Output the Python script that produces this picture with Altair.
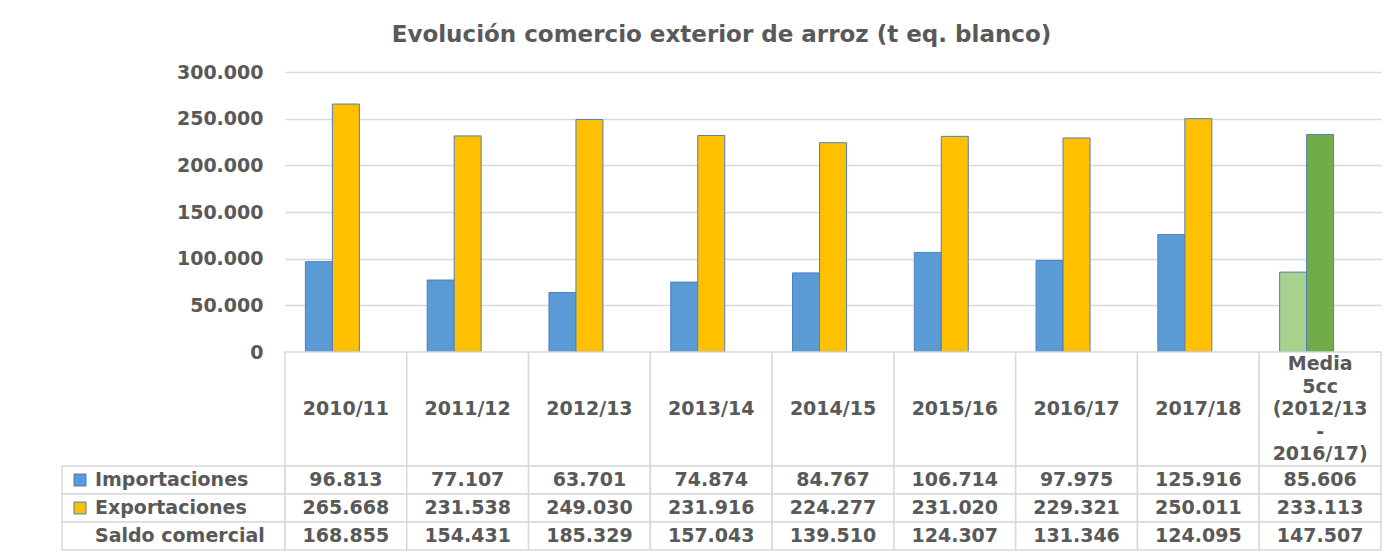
import altair as alt
import pandas as pd

# ---- data ----
categorias = ["2010/11", "2011/12", "2012/13", "2013/14", "2014/15",
              "2015/16", "2016/17", "2017/18", "Media\n5cc\n(2012/13\n-\n2016/17)"]
series = ["Importaciones", "Exportaciones", "Saldo comercial"]
importaciones = [96813, 77107, 63701, 74874, 84767, 106714, 97975, 125916, 85606]
exportaciones = [265668, 231538, 249030, 231916, 224277, 231020, 229321, 250011, 233113]
saldo = [168855, 154431, 185329, 157043, 139510, 124307, 131346, 124095, 147507]
ticks_y = [0, 50000, 100000, 150000, 200000, 250000, 300000]
titulo = "Evolución comercio exterior de arroz (t eq. blanco)"

media_cat = categorias[-1]
rows = []
for serie, vals in zip(series, [importaciones, exportaciones, saldo]):
    for c, v in zip(categorias, vals):
        key = serie + (" (media)" if c == media_cat else "")
        rows.append({"cat": c, "serie": serie, "value": v, "key": key})
df = pd.DataFrame(rows)
df_cat = pd.DataFrame({"cat": categorias})
df_lbl = pd.DataFrame({"serie": series})

# header text split in lines (one row per line, centred on the cell)
hdr_rows = []
for c in categorias:
    lines = c.split("\n")
    n = len(lines)
    for i, ln in enumerate(lines):
        hdr_rows.append({"cat": c, "line": ln, "pos": (n - 1) / 2 - i})
df_hdr = pd.DataFrame(hdr_rows)

color_domain = ["Importaciones", "Exportaciones", "Importaciones (media)",
                "Exportaciones (media)", "Saldo comercial", "Saldo comercial (media)"]
color_range = ["#5B9BD5", "#FFC000", "#A9D18E", "#70AD47", "#FFFFFF", "#FFFFFF"]

FONT = "DejaVu Sans"
GRAY = "#595959"
GRID = "#D9D9D9"
BORDER = "#4F7FBF"
FS = 19
HDR_H = 114
LINE_H = 22.5
fmt = "replace(format(datum.value, ','), regexp(',', 'g'), '.')"

color_enc = alt.Color("key:N", scale=alt.Scale(domain=color_domain, range=color_range), legend=None)

# ---- bars ----
bars = alt.Chart(df).transform_filter("datum.serie != 'Saldo comercial'").mark_bar(
    stroke=BORDER, strokeWidth=1
).encode(
    x=alt.X("cat:N", sort=categorias,
            scale=alt.Scale(domain=categorias, paddingInner=0.335, paddingOuter=0.1675), axis=None),
    xOffset=alt.XOffset("serie:N", sort=series,
                        scale=alt.Scale(domain=series, paddingInner=0, paddingOuter=0)),
    y=alt.Y("value:Q", scale=alt.Scale(domain=[0, 300000], nice=False),
            axis=alt.Axis(values=ticks_y, labelExpr=fmt, grid=True, gridColor=GRID, gridWidth=1.5,
                          domain=False, ticks=False, labelPadding=22, labelFont=FONT,
                          labelFontSize=FS, labelFontWeight="bold", labelColor=GRAY, title=None)),
    color=color_enc,
).properties(width=1096, height=280)

# ---- table ----
x_tab = alt.X("cat:N", sort=categorias,
              scale=alt.Scale(domain=categorias, paddingInner=0, paddingOuter=0), axis=None)
y_rows = alt.Y("serie:N", sort=series,
               scale=alt.Scale(domain=series, paddingInner=0, paddingOuter=0), axis=None)

half = HDR_H / 2 / LINE_H
hdr_cells = alt.Chart(df_cat).mark_rect(fill="white", stroke=GRID, strokeWidth=1.5).encode(x=x_tab)
hdr_text = alt.Chart(df_hdr).mark_text(
    font=FONT, fontSize=FS, fontWeight="bold", color=GRAY, baseline="middle"
).encode(x=x_tab,
         y=alt.Y("pos:Q", scale=alt.Scale(domain=[-half, half], nice=False, zero=False), axis=None),
         text="line:N")
header = alt.layer(hdr_cells, hdr_text).properties(width=1096, height=HDR_H)

val_cells = alt.Chart(df).mark_rect(fill="white", stroke=GRID, strokeWidth=1.5).encode(x=x_tab, y=y_rows)
val_text = alt.Chart(df).transform_calculate(label=fmt).mark_text(
    font=FONT, fontSize=FS, fontWeight="bold", color=GRAY
).encode(x=x_tab, y=y_rows, text="label:N")
values = alt.layer(val_cells, val_text).properties(width=1096, height=84)

x_lbl_scale = alt.Scale(paddingInner=0, paddingOuter=0)
lbl_base = alt.Chart(df_lbl).transform_calculate(col="'etiqueta'", key="datum.serie")
lbl_cells = lbl_base.mark_rect(fill="white", stroke=GRID, strokeWidth=1.5).encode(
    x=alt.X("col:N", scale=x_lbl_scale, axis=None), y=y_rows)
lbl_sw = lbl_base.transform_filter("datum.serie != 'Saldo comercial'").mark_square(
    size=144, xOffset=18, opacity=1, stroke=BORDER, strokeWidth=1
).encode(x=alt.X("col:N", bandPosition=0, scale=x_lbl_scale, axis=None), y=y_rows, color=color_enc)
lbl_text = lbl_base.mark_text(
    align="left", dx=33, font=FONT, fontSize=FS, fontWeight="bold", color=GRAY
).encode(x=alt.X("col:N", bandPosition=0, scale=x_lbl_scale, axis=None), y=y_rows, text="serie:N")
labels = alt.layer(lbl_cells, lbl_sw, lbl_text).properties(width=223, height=84)

empty_top = alt.Chart(df_cat).mark_rect(opacity=0).encode(
    x=alt.X("cat:N", axis=None)).properties(width=223, height=280)
empty_mid = alt.Chart(df_cat).mark_rect(opacity=0).encode(
    x=alt.X("cat:N", axis=None)).properties(width=223, height=HDR_H)

chart = alt.concat(
    empty_top, bars, empty_mid, header, labels, values,
    columns=2, spacing=0, bounds="flush", align="each"
).properties(
    title=alt.TitleParams(titulo, font=FONT, fontSize=23, fontWeight="bold", color=GRAY,
                          anchor="middle", offset=16),
    padding={"left": 53, "top": 16, "right": 5, "bottom": 2},
    background="white",
).configure_view(stroke=None).configure_concat(spacing=0)

chart.save("out.html", embed_options={"renderer": "svg", "actions": False})
